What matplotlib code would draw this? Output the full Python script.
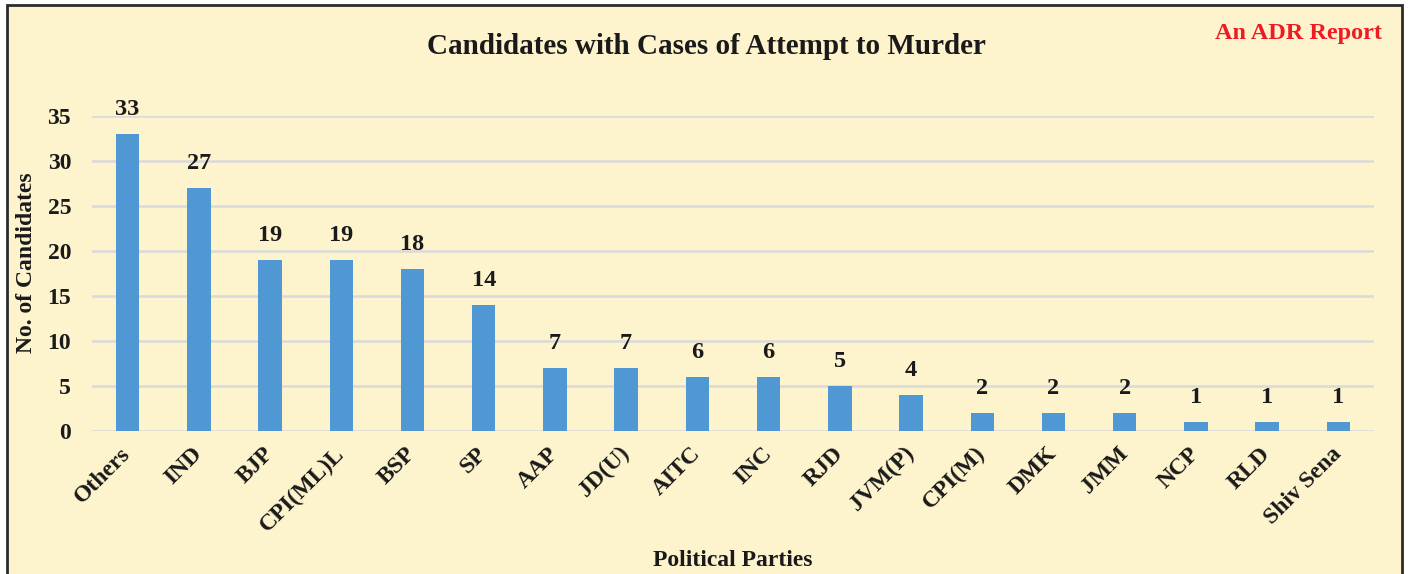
import matplotlib.pyplot as plt
from matplotlib.patches import Rectangle

parties = ['Others', 'IND', 'BJP', 'CPI(ML)L', 'BSP', 'SP', 'AAP', 'JD(U)', 'AITC',
           'INC', 'RJD', 'JVM(P)', 'CPI(M)', 'DMK', 'JMM', 'NCP', 'RLD', 'Shiv Sena']
candidates = [33, 27, 19, 19, 18, 14, 7, 7, 6, 6, 5, 4, 2, 2, 2, 1, 1, 1]
y_ticks = [0, 5, 10, 15, 20, 25, 30, 35]

bg = '#FDF3CD'
bar_color = '#4F98D4'
ink = '#1a1a1a'

plt.rcParams['font.family'] = ['Liberation Serif', 'DejaVu Serif']
plt.rcParams['font.weight'] = 'bold'

fig = plt.figure(figsize=(14.08, 5.74), dpi=100)
fig.patch.set_facecolor('white')

# framed yellow panel, behind the axes
panel = Rectangle((7 / 1408, -0.01), (1402 - 7) / 1408, 1 - 5 / 574 + 0.01,
                  transform=fig.transFigure, facecolor=bg, edgecolor='#2b2b2b',
                  linewidth=2, zorder=-1)
fig.patches.append(panel)

ax = fig.add_axes([92 / 1408, 1 - 431 / 574, (1374 - 92) / 1408, (431 - 116) / 574])
ax.set_facecolor('none')

x = range(len(parties))
ax.bar(x, candidates, width=0.33, color=bar_color, zorder=3)
for xi, v in zip(x, candidates):
    ax.annotate(str(v), (xi, v), xytext=(0, 10), textcoords='offset points',
                ha='center', va='bottom', fontsize=17.5, fontweight='bold', color=ink)

ax.set_xlim(-0.5, len(parties) - 0.5)
ax.set_ylim(0, 35)
ax.set_yticks(y_ticks)
ax.yaxis.grid(True, color='#DADADA', linewidth=1.8, zorder=0)
ax.set_axisbelow(True)
for s in ax.spines.values():
    s.set_visible(False)
ax.tick_params(axis='both', length=0, labelsize=17, colors=ink)
ax.tick_params(axis='y', pad=15)
ax.set_xticks(list(x))
ax.set_xticklabels(parties, rotation=45, ha='right', va='center',
                   rotation_mode='anchor', fontweight='bold')
ax.tick_params(axis='x', pad=14)

fig.text(27 / 1408, 1 - 263 / 574, 'No. of Candidates', rotation=90, ha='center', va='center',
         fontsize=17, fontweight='bold', color=ink)
fig.text(733 / 1408, 1 - 561 / 574, 'Political Parties', ha='center', va='center',
         fontsize=17, fontweight='bold', color=ink)
fig.text(706 / 1408, 1 - 46 / 574, 'Candidates with Cases of Attempt to Murder',
         ha='center', va='center', fontsize=21, fontweight='bold', color=ink)
fig.text(1382 / 1408, 1 - 33 / 574, 'An ADR Report', ha='right', va='center',
         fontsize=17.5, fontweight='bold', color='#ED1C24')

fig.savefig('out.png', dpi=100, facecolor=fig.get_facecolor())
